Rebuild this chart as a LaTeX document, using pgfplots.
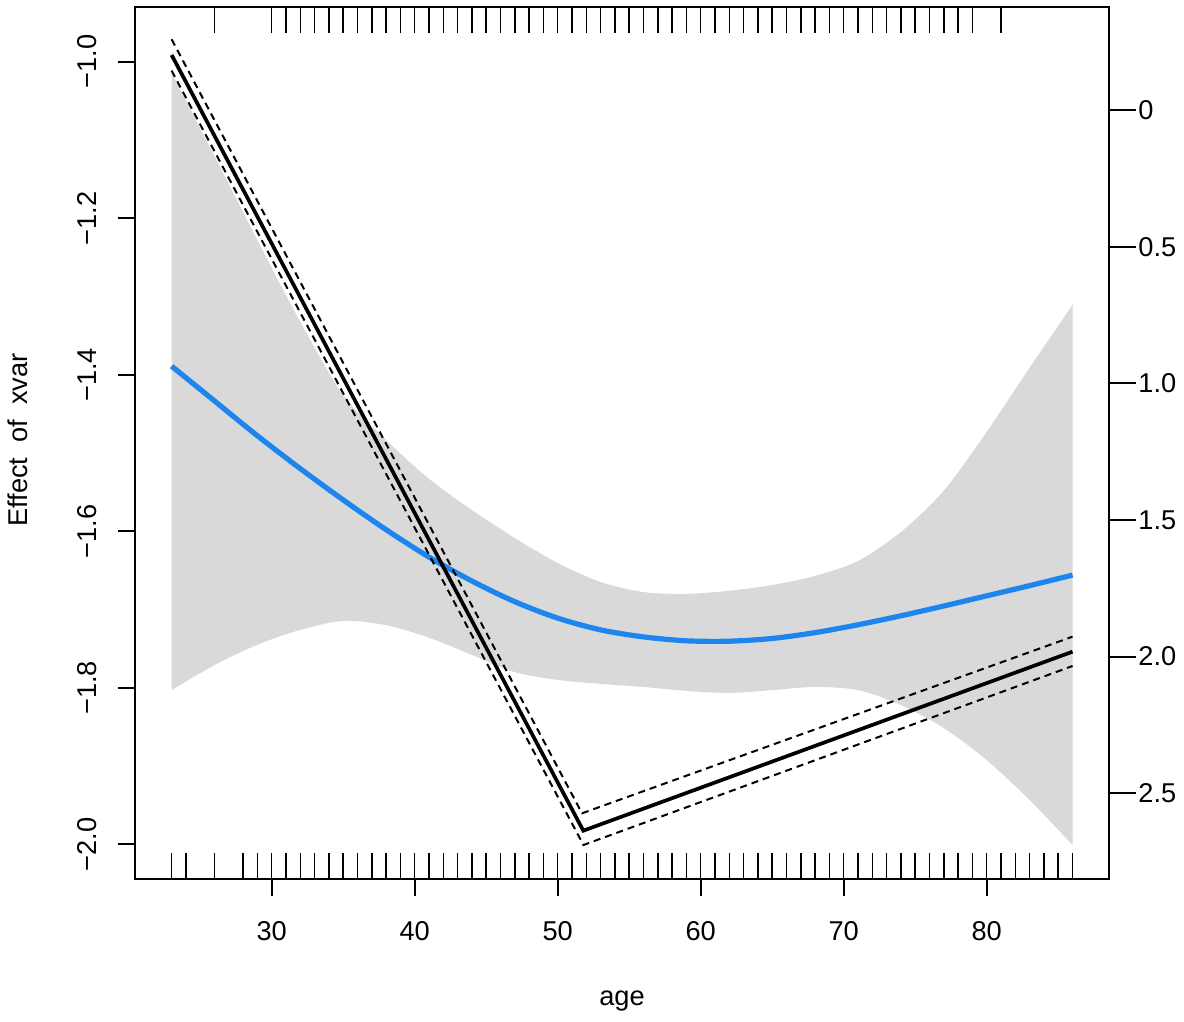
\documentclass[border=0pt]{standalone}
\usepackage{fontspec}
\setmainfont{Liberation Sans}
\usepackage{pgfplots}
\pgfplotsset{compat=1.18}
\usepgfplotslibrary{fillbetween}
\definecolor{bandgray}{RGB}{217,217,217}
\definecolor{fitblue}{RGB}{28,134,238}
\newcommand{\lf}{\fontsize{13.6pt}{16pt}\selectfont}
\begin{document}
\begin{tikzpicture}
\begin{axis}[
  scale only axis, width=487pt, height=436pt,
  at={(0,0)}, anchor=south west,
  xmin=20.44, xmax=88.55, ymin=-2.04434, ymax=-0.9301,
  axis line style={line width=1pt},
  tick align=outside, xtick pos=bottom, ytick pos=left,
  major tick length=8.5pt,
  every tick/.style={black, line width=1pt},
  xtick={30,40,50,60,70,80},
  xticklabels={30,40,50,60,70,80},
  ytick={-2,-1.8,-1.6,-1.4,-1.2,-1},
  yticklabels={−2.0,−1.8,−1.6,−1.4,−1.2,−1.0},
  tick label style={font=\lf},
  xticklabel style={anchor=base, yshift=-22.5pt},
  yticklabel style={xshift=-10.65pt, rotate=90, anchor=base},
  clip=false,
]
% confidence band of the smooth
\addplot[name path=upper, draw=none, smooth] coordinates {
(23,-1.0146) (26,-1.1205) (29,-1.228) (32,-1.3326) (35,-1.426) (38,-1.4834)
(41,-1.533) (44,-1.573) (47,-1.6086) (50,-1.6406) (53,-1.6649) (56,-1.6777)
(59,-1.680) (62,-1.676) (65,-1.6687) (68,-1.657) (71,-1.638) (74,-1.601)
(77,-1.548) (80,-1.473) (83,-1.391) (86,-1.3108)};
\addplot[name path=lower, draw=none, smooth] coordinates {
(23,-1.803) (26,-1.771) (29,-1.745) (32,-1.726) (35,-1.7145) (38,-1.720)
(41,-1.736) (44,-1.758) (47,-1.780) (50,-1.790) (53,-1.795) (56,-1.799)
(59,-1.804) (62,-1.8066) (65,-1.803) (68,-1.799) (71,-1.803) (74,-1.822)
(77,-1.8515) (80,-1.8925) (83,-1.9434) (86,-2.0009)};
\addplot[fill=bandgray, draw=none] fill between[of=upper and lower];
% smooth fit
\addplot[fitblue, line width=2.6pt, smooth] coordinates {
(23,-1.389) (26,-1.4335) (29,-1.478) (32,-1.520) (35,-1.560) (38,-1.598)
(41,-1.633) (44,-1.6636) (47,-1.690) (50,-1.711) (53,-1.726) (56,-1.735)
(59,-1.740) (62,-1.7405) (65,-1.737) (68,-1.7295) (71,-1.7195) (74,-1.708)
(77,-1.6955) (80,-1.6825) (83,-1.6695) (86,-1.656)};
% segmented fit
\addplot[black, line width=1pt, dash pattern=on 3.5pt off 2.5pt] coordinates {(23,-0.9714) (51.7,-1.9604) (86,-1.7347)};
\addplot[black, line width=1pt, dash pattern=on 3.5pt off 2.5pt] coordinates {(23,-1.0115) (51.8,-2.0009) (86,-1.7722)};
\addplot[black, line width=1.85pt] coordinates {(23,-0.9914) (51.79,-1.9826) (86,-1.7539)};
% rugs
\addplot[only marks, mark=|, mark size=6.5pt, mark options={line width=0.75pt, black}] coordinates {
(23,-2.02773) (24,-2.02773) (26,-2.02773) (28,-2.02773) (29,-2.02773) (30,-2.02773)
(31,-2.02773) (32,-2.02773) (33,-2.02773) (34,-2.02773) (35,-2.02773) (36,-2.02773)
(37,-2.02773) (38,-2.02773) (39,-2.02773) (40,-2.02773) (41,-2.02773) (42,-2.02773)
(43,-2.02773) (44,-2.02773) (45,-2.02773) (46,-2.02773) (47,-2.02773) (48,-2.02773)
(49,-2.02773) (50,-2.02773) (51,-2.02773) (52,-2.02773) (53,-2.02773) (54,-2.02773)
(55,-2.02773) (56,-2.02773) (57,-2.02773) (58,-2.02773) (59,-2.02773) (60,-2.02773)
(61,-2.02773) (62,-2.02773) (63,-2.02773) (64,-2.02773) (65,-2.02773) (66,-2.02773)
(67,-2.02773) (68,-2.02773) (69,-2.02773) (70,-2.02773) (71,-2.02773) (72,-2.02773)
(73,-2.02773) (74,-2.02773) (75,-2.02773) (76,-2.02773) (77,-2.02773) (78,-2.02773)
(79,-2.02773) (80,-2.02773) (81,-2.02773) (82,-2.02773) (83,-2.02773) (84,-2.02773)
(85,-2.02773) (86,-2.02773)};
\addplot[only marks, mark=|, mark size=6.5pt, mark options={line width=0.75pt, black}] coordinates {
(26,-0.94671) (30,-0.94671) (31,-0.94671) (32,-0.94671) (33,-0.94671) (34,-0.94671)
(35,-0.94671) (36,-0.94671) (37,-0.94671) (38,-0.94671) (39,-0.94671) (40,-0.94671)
(41,-0.94671) (42,-0.94671) (43,-0.94671) (44,-0.94671) (45,-0.94671) (46,-0.94671)
(47,-0.94671) (48,-0.94671) (49,-0.94671) (50,-0.94671) (51,-0.94671) (52,-0.94671)
(53,-0.94671) (54,-0.94671) (55,-0.94671) (56,-0.94671) (57,-0.94671) (58,-0.94671)
(59,-0.94671) (60,-0.94671) (61,-0.94671) (62,-0.94671) (63,-0.94671) (64,-0.94671)
(65,-0.94671) (66,-0.94671) (67,-0.94671) (68,-0.94671) (69,-0.94671) (70,-0.94671)
(71,-0.94671) (72,-0.94671) (73,-0.94671) (74,-0.94671) (75,-0.94671) (76,-0.94671)
(77,-0.94671) (78,-0.94671) (79,-0.94671) (81,-0.94671)};
\node[font=\lf, anchor=base, yshift=-63.5pt] at (axis description cs:0.5,0) {age};
\node[font=\lf, xshift=-53.5pt, yshift=1.5pt, rotate=90, anchor=base] at (axis description cs:0,0.5) {Effect\ \ of\ \ xvar};
\end{axis}
\begin{axis}[
  scale only axis, width=487pt, height=436pt,
  at={(0,0)}, anchor=south west,
  xmin=20.44, xmax=88.55,
  ymin=-0.37687, ymax=2.81376, y dir=reverse,
  hide x axis, axis y line*=right,
  axis line style={-, line width=1pt},
  tick align=outside, ytick pos=right,
  major tick length=13.5pt,
  every tick/.style={black, line width=1pt},
  ytick={0,0.5,1,1.5,2,2.5},
  yticklabels={0,0.5,1.0,1.5,2.0,2.5},
  tick label style={font=\lf},
  yticklabel style={anchor=west, inner sep=0pt, xshift=1pt},
]
\addplot[draw=none] coordinates {(30,0)};
\end{axis}
\pgfresetboundingbox
\useasboundingbox (-67.5pt,-71.5pt) rectangle (524.5pt,439.5pt);
\end{tikzpicture}
\end{document}
